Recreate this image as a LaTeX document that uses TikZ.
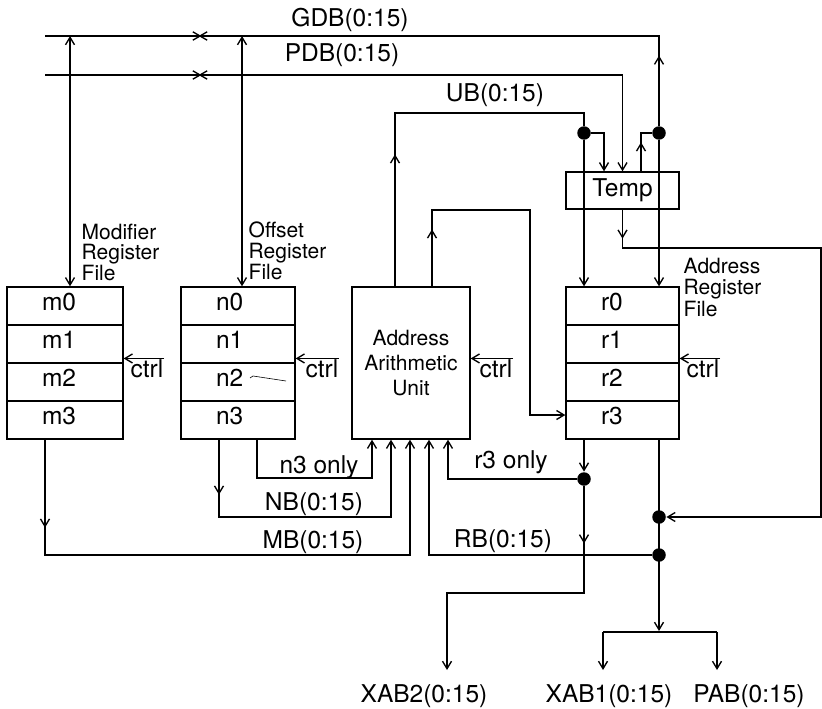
\documentclass[tikz,border=0pt]{standalone}
\usepackage{fontspec}
\setmainfont{TeX Gyre Heros}
\usetikzlibrary{arrows.meta,shapes.misc,decorations.markings}
\begin{document}
\begin{tikzpicture}[x=1pt,y=-1pt,line width=1.35pt,
  >={Straight Barb[length=7.5pt,width=9pt]},
  lbl/.style={font=\fontsize{24.5}{28}\selectfont, inner sep=0pt, anchor=base},
  sml/.style={font=\fontsize{21}{20.5}\selectfont, inner sep=0pt, align=left, anchor=base west},
  regrow/.style={draw, minimum height=38pt, inner ysep=0pt, inner xsep=35pt, text width=#1, align=left, text height=17pt, text depth=9pt, font=\fontsize{24.5}{28}\selectfont},
  jdot/.style={circle, fill, draw=none, minimum size=13.5pt, inner sep=0pt},
  xmark/.style={cross out, draw, minimum width=13pt, minimum height=7pt, inner sep=0pt},
  mid/.style={postaction={decorate, decoration={markings, mark=at position #1 with {\arrow{>}}}}},
]
\path[use as bounding box, fill=white] (0,0) rectangle (822,709);

% register files
\node[regrow=46pt] (m0) at (65,306) {m0};
\node[regrow=46pt] (m1) at (65,344) {m1};
\node[regrow=46pt] (m2) at (65,382) {m2};
\node[regrow=46pt] (m3) at (65,420) {m3};
\node[regrow=44pt] (n0) at (238,306) {n0};
\node[regrow=44pt] (n1) at (238,344) {n1};
\node[regrow=44pt] (n2) at (238,382) {n2};
\node[regrow=44pt] (n3) at (238,420) {n3};
\node[regrow=43pt] (r0) at (622.5,306) {r0};
\node[regrow=43pt] (r1) at (622.5,344) {r1};
\node[regrow=43pt] (r2) at (622.5,382) {r2};
\node[regrow=43pt] (r3) at (622.5,420) {r3};
\node[draw, minimum width=118pt, minimum height=152pt, inner sep=0pt, align=center,
      font=\fontsize{21}{25}\selectfont] (aau) at (411,363) {Address\\Arithmetic\\Unit};
\node[draw, minimum width=113pt, minimum height=37pt, inner sep=0pt,
      font=\fontsize{24.5}{28}\selectfont] (temp) at (622.5,190.5) {Temp};

% file labels (anchored at the baseline of the last line)
\node[sml] (modl) at (81,280) {Modifier\\Register\\File};
\node[sml, font=\fontsize{21}{21}\selectfont] (offl) at (248,279) {Offset\\Register\\File};
\node[sml, font=\fontsize{21}{21.5}\selectfont] (adrl) at (683,316) {Address\\Register\\File};

% bus labels
\node[lbl] (gdb) at (350,27) {GDB(0:15)};
\node[lbl] (pdb) at (342,62) {PDB(0:15)};
\node[lbl] (ub) at (495,102) {UB(0:15)};
\node[lbl] (n3o) at (319,473) {n3 only};
\node[lbl] (nb) at (314,510) {NB(0:15)};
\node[lbl] (mb) at (313,548) {MB(0:15)};
\node[lbl] (r3o) at (511,468) {r3 only};
\node[lbl] (rb) at (503,547) {RB(0:15)};
\node[lbl] (xab2) at (424,702) {XAB2(0:15)};
\node[lbl] (xab1) at (609,702) {XAB1(0:15)};
\node[lbl] (pab) at (749,702) {PAB(0:15)};

% ctrl inputs
\node[lbl] (cm) at (147,377) {ctrl};
\node[lbl] (cn) at (322,377) {ctrl};
\node[lbl] (ca) at (496,377) {ctrl};
\node[lbl] (cr) at (703,377) {ctrl};
\draw[->] (cm.north east) -- (cm.north east -| m1.east);
\draw[->] (cn.north east) -- (cn.north east -| n1.east);
\draw[->] (ca.north east) -- (ca.north east -| aau.east);
\draw[->] (cr.north east) -- (cr.north east -| r1.east);

% junction dots
\node[jdot] (dU) at (584,133) {};
\node[jdot] (dG) at (659,133) {};
\node[jdot] (dR) at (584,479) {};
\node[jdot] (dT) at (659,517) {};
\node[jdot] (dB) at (659,555) {};

% coordinates of bends
\coordinate (cGL) at (45,36);
\coordinate (cPL) at (45,75);
\coordinate (cMX) at (70,36);
\coordinate (cOX) at (242,36);
\coordinate (cUB) at (395,113);
\coordinate (cUT) at (604,133);
\coordinate (cTG) at (641,133);
\coordinate (cFR) at (821,248);
\coordinate (cA2) at (432,210);
\coordinate (cA3) at (530,210);
\coordinate (cA4) at (530,415);
\coordinate (cMB) at (45,555);
\coordinate (cMBr) at (410,555);
\coordinate (cNB) at (219,517);
\coordinate (cNBr) at (391,517);
\coordinate (cN3) at (257,478);
\coordinate (cN3r) at (372,478);
\coordinate (cR3r) at (448,479);
\coordinate (cX2a) at (584,593);
\coordinate (cX2b) at (447,593);
\coordinate (cX2e) at (447,670);
\coordinate (cRT) at (659,631);
\coordinate (cRBl) at (429,555);
\coordinate (cS1) at (603,632);
\coordinate (cS2) at (717,632);
\coordinate (cE1) at (603,670);
\coordinate (cE2) at (717,670);

% GDB
\draw[mid=70pt] (dG) -- (dG |- cGL) -- (cGL);
\draw[->] (dG) -- (dG |- r0.north);
\draw[mid=29pt] (cTG |- temp.north) -- (cTG) -- (dG);
% PDB
\draw[->] (cPL) -- (cPL -| temp.north) -- (temp.north);
\node[xmark] (xG) at (200,36) {};
\node[xmark] (xP) at (200,75) {};
% register file data ports
\draw[<->] (cMX) -- (cMX |- m0.north);
\draw[<->] (cOX) -- (cOX |- n0.north);
% UB
\draw[mid=132pt] (cUB |- aau.north) -- (cUB) -- (cUB -| dU) -- (dU);
\draw[->] (dU) -- (dU |- r0.north);
\draw[->] (dU) -- (cUT) -- (cUT |- temp.north);
% Temp out
\draw[->, mid=29pt] (temp.south) -- (temp.south |- cFR) -- (cFR) -- (cFR |- dT) -- (dT);
% AAU to r3
\draw[->, mid=57pt] (cA2 |- aau.north) -- (cA2) -- (cA3) -- (cA4) -- (cA4 -| r3.west);
% MB
\draw[->, mid=88pt] (cMB |- m3.south) -- (cMB) -- (cMBr) -- (cMBr |- aau.south);
% NB
\draw[->, mid=55pt] (cNB |- n3.south) -- (cNB) -- (cNBr) -- (cNBr |- aau.south);
% n3 only
\draw[->] (cN3 |- n3.south) -- (cN3) -- (cN3r) -- (cN3r |- aau.south);
% r3 only
\draw[->] (dR |- r3.south) -- (dR);
\draw[->] (dR) -- (cR3r) -- (cR3r |- aau.south);
% XAB2
\draw[->, mid=57pt] (dR) -- (cX2a) -- (cX2b) -- (cX2e);
% RB and XAB1 / PAB
\draw[->] (cRT |- r3.south) -- (cRT);
\draw[->] (dB) -- (cRBl) -- (cRBl |- aau.south);
\draw (cS1) -- (cS2);
\draw[->] (cS1) -- (cE1);
\draw[->] (cS2) -- (cE2);

% small stroke in n2
\draw[line width=0.6pt] (250,378) -- (253,376) -- (286,381);
\end{tikzpicture}
\end{document}
